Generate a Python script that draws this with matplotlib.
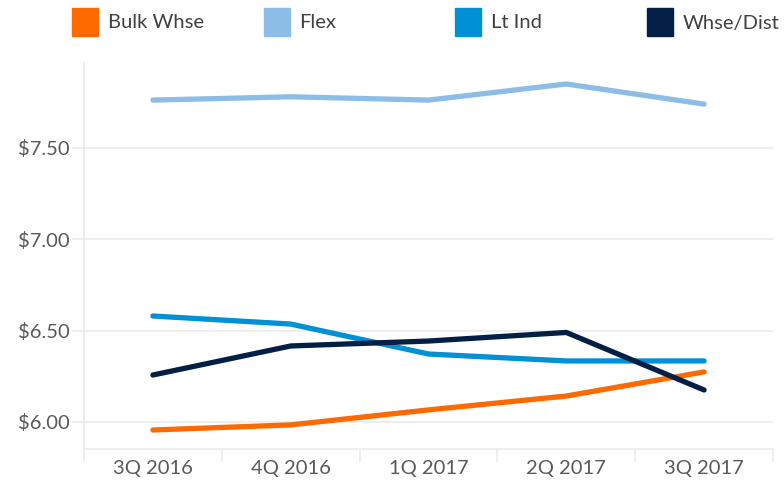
import matplotlib.pyplot as plt
import matplotlib.patches as mpatches
import numpy as np

# 各类型物业的季度租金 ($/SF)
# 数据按图中读取

plt.rcParams['font.family'] = ['Lato', 'DejaVu Sans']

quarters = ["3Q 2016", "4Q 2016", "1Q 2017", "2Q 2017", "3Q 2017"]
series = {
    "Bulk Whse": [5.956, 5.984, 6.066, 6.142, 6.274],
    "Flex": [7.762, 7.780, 7.762, 7.850, 7.740],
    "Lt Ind": [6.580, 6.536, 6.372, 6.334, 6.334],
    "Whse/Dist": [6.257, 6.416, 6.443, 6.490, 6.175],
}
colors = ["#FF6A00", "#8BBDE6", "#0090D6", "#031F45"]
grid_c = "#EBEBEB"
text_c = "#595959"

x = np.arange(len(quarters))

fig, ax = plt.subplots(figsize=(7.84, 4.83), dpi=100)
fig.subplots_adjust(left=84 / 784, right=773 / 784, bottom=34 / 483, top=420 / 483)

for (name, vals), c in zip(series.items(), colors):
    ax.plot(x, vals, color=c, lw=3.8, solid_capstyle='round', solid_joinstyle='round')

# 坐标轴
ax.set_xlim(-0.5, len(quarters) - 0.5)
ax.set_ylim(5.852, 7.965)
ax.set_yticks([6.0, 6.5, 7.0, 7.5])
ax.set_yticklabels(["${:.2f}".format(v) for v in [6.0, 6.5, 7.0, 7.5]])
ax.set_xticks(x)
ax.set_xticklabels(quarters)
ax.set_xticks(np.arange(-0.5, len(quarters)), minor=True)
ax.tick_params(axis='x', which='major', length=0, pad=8, labelsize=14.5, labelcolor=text_c)
ax.tick_params(axis='x', which='minor', length=9, width=1.2, color=grid_c)
ax.tick_params(axis='y', length=9, width=1.2, color=grid_c, pad=1.5, labelsize=14.5, labelcolor=text_c)
ax.grid(axis='y', color=grid_c, lw=1.2)
ax.set_axisbelow(True)
for s in ['top', 'right']:
    ax.spines[s].set_visible(False)
for s in ['left', 'bottom']:
    ax.spines[s].set_color(grid_c)
    ax.spines[s].set_linewidth(1.2)

# 图例
for i, (name, c) in enumerate(zip(series.keys(), colors)):
    x0 = 72 + 191.5 * i
    fig.add_artist(mpatches.Rectangle((x0 / 784, 1 - 36 / 483), 26 / 784, 28 / 483,
                                      transform=fig.transFigure, color=c))
    fig.text((x0 + 36) / 784, 1 - 23 / 483, name, fontsize=14.5, color="#404040", va='center')

fig.savefig("out.png", dpi=100)
